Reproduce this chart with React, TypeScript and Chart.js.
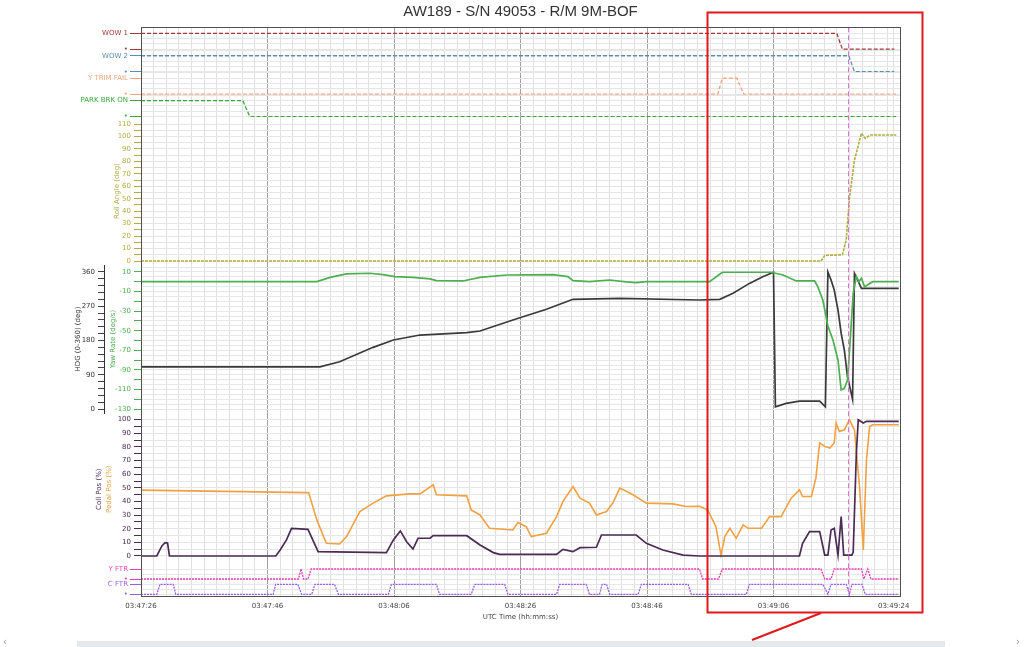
import React, { useEffect, useRef } from "react";
import { Chart, registerables, LinearScale } from "chart.js";

Chart.register(...registerables);

// Linear scale whose tick labels may extend beyond the axis box (long signal names)
class LinearNoClip extends (LinearScale as any) {
  static id = "linearNoClip";
  static defaults = (LinearScale as any).defaults;
  _computeLabelArea() {
    return undefined;
  }
}
Chart.register(LinearNoClip as any);

// ---------- text ----------
const CHART_TITLE = "AW189 - S/N 49053 - R/M 9M-BOF";
const X_AXIS_TITLE = "UTC Time (hh:mm:ss)";
const LOW_LABEL = "•";

// ---------- x axis (seconds from 03:47:26) ----------
const xTickSeconds = [0, 20, 40, 60, 80, 100, 119];
const xTickLabels = ["03:47:26", "03:47:46", "03:48:06", "03:48:26", "03:48:46", "03:49:06", "03:49:24"];
const cursorSeconds = 111.7;

// ---------- y tick labels ----------
const rollTicks = [0, 10, 20, 30, 40, 50, 60, 70, 80, 90, 100, 110];
const yawTicks = [-130, -110, -90, -70, -50, -30, -10, 10];
const hdgTicks = [0, 90, 180, 270, 360];
const pctTicks = [0, 10, 20, 30, 40, 50, 60, 70, 80, 90, 100];

// ---------- discrete signals [time s, state] ----------
const wow1: [number, number][] = [[0, 1], [110.0, 1], [110.9, 0], [119.1, 0]];
const wow2: [number, number][] = [[0, 1], [111.9, 1], [112.8, 0], [119.1, 0]];
const yTrimFail: [number, number][] = [[0, 0], [91.2, 0], [91.9, 1], [94.2, 1], [95.3, 0], [119.4, 0]];
const parkBrake: [number, number][] = [[0, 1], [16.1, 1], [17.2, 0], [119.4, 0]];
const yFtr: [number, number][] = [
  [0, 0], [24.9, 0], [25.3, 1], [25.7, 0], [26.4, 0], [26.9, 1], [88.3, 1], [88.8, 0], [91.3, 0], [91.9, 1],
  [107.5, 1], [108.1, 0], [109.1, 0], [109.6, 1], [113.9, 1], [114.3, 0], [114.9, 1], [115.4, 0], [119.8, 0],
];
const cFtr: [number, number][] = [
  [0, 0], [2.5, 0], [3.0, 1], [5.1, 1], [5.5, 0], [20.9, 0], [21.3, 1], [24.8, 1], [25.4, 0], [27.0, 0],
  [27.5, 1], [30.6, 1], [31.2, 0], [39.1, 0], [39.6, 1], [46.7, 1], [47.2, 0], [52.2, 0], [52.8, 1], [57.5, 1],
  [58.0, 0], [65.7, 0], [66.2, 1], [70.4, 1], [70.9, 0], [72.5, 0], [72.9, 1], [73.6, 1], [74.1, 0], [78.6, 0],
  [79.1, 1], [86.5, 1], [87.0, 0], [95.7, 0], [96.2, 1], [107.8, 1], [108.6, 0], [109.1, 1], [111.5, 1],
  [112.0, 0], [112.4, 1], [114.0, 1], [114.5, 0], [119.8, 0],
];

// ---------- analog signals [time s, value] ----------
const rollAngle: [number, number][] = [
  [0, 0], [107.5, 0], [108.1, 4.5], [110.9, 5], [111.5, 17], [112.0, 50], [112.8, 81], [113.9, 102.6],
  [114.5, 98.5], [115.3, 101.2], [119.4, 101.2],
];
const yawRate: [number, number][] = [
  [0, 0.1], [27.8, 0.1], [29.9, 4.5], [32.5, 8.0], [36.2, 8.7], [38.3, 7.3], [40.1, 5.2], [43.0, 4.5],
  [45.7, 2.9], [46.7, 1.1], [50.9, 0.8], [53.6, 4.5], [57.8, 6.9], [65.1, 7.3], [67.5, 5.2], [68.3, 1.1],
  [70.9, 0.1], [74.1, 1.8], [76.7, -0.2], [78.3, -0.9], [79.9, 0.1], [89.9, 0.1], [91.7, 8.7], [92.0, 9.7],
  [99.6, 9.7], [101.5, 6.9], [103.6, 0.8], [106.5, 0.8], [107.0, -5.0], [107.8, -18.6], [108.6, -45.2],
  [109.4, -59.5], [110.2, -79.9], [110.7, -110.5], [111.2, -108.8], [111.7, -100.3], [112.2, -52.6],
  [112.6, -11.8], [113.1, 5.2], [113.5, 0.1], [113.9, 3.6], [114.4, -5.0], [115.7, 0.1], [119.8, 0.1],
];
const heading: [number, number][] = [
  [0, 111], [28.3, 111], [31.4, 124.3], [36.7, 162.1], [39.9, 181.3], [44.1, 194.4], [51.5, 200.5],
  [53.6, 204.9], [58.8, 233.8], [64.1, 262], [68.3, 288.2], [75.7, 290.9], [88.3, 286.4], [91.5, 288.2],
  [93.6, 304], [96.2, 330], [98.3, 347.6], [100.0, 359.2], [100.3, 6], [102.0, 15], [104.1, 21], [107.3, 21],
  [108.2, 6], [108.6, 360], [109.1, 339], [109.6, 312.7], [110.2, 260], [110.7, 199], [111.2, 155],
  [111.7, 85], [112.5, 25.5], [112.8, 356.5], [113.3, 339], [113.9, 317], [119.8, 317],
];
const pedalPos: [number, number][] = [
  [0, 48.3], [26.2, 46.5], [26.5, 46.5], [27.8, 26.5], [29.3, 9.3], [31.4, 8.8], [32.5, 14.2], [34.6, 32.6],
  [36.7, 38.8], [38.8, 44.1], [42.5, 45.6], [44.1, 45.6], [46.2, 52.2], [46.7, 44.9], [51.5, 44.1],
  [52.2, 33.8], [53.6, 30.1], [55.1, 20.3], [58.8, 19.1], [59.6, 24.5], [60.9, 21.5], [61.7, 14.2],
  [64.1, 16.7], [65.7, 28.9], [66.7, 39.9], [68.3, 51], [69.4, 42.4], [70.9, 38.8], [72.0, 30.1],
  [73.6, 32.6], [74.6, 38.8], [75.7, 49.8], [77.8, 44.9], [79.9, 38.8], [84.1, 38.2], [86.2, 36.3],
  [88.3, 36.5], [89.6, 33.8], [90.9, 21.5], [91.7, 0.7], [92.3, 14.2], [93.1, 20.3], [94.1, 13],
  [95.2, 22.8], [96.0, 20.3], [98.1, 20.3], [99.4, 28.9], [101.2, 28.9], [102.8, 42.4], [104.1, 48.5],
  [104.6, 43.6], [106.0, 43.6], [106.7, 57.1], [107.3, 82.9], [108.1, 80.4], [108.9, 79.2], [109.6, 82.9],
  [109.9, 97.6], [110.4, 91.4], [111.2, 92.6], [112.0, 100], [112.8, 92.6], [113.6, 51], [114.2, 4.4],
  [114.7, 70.6], [115.2, 95.1], [115.7, 96.3], [119.8, 96.3],
];
const collPos: [number, number][] = [
  [0, 0], [2.5, 0], [3.3, 7.4], [3.8, 9.8], [4.2, 9.5], [4.5, 0], [21.3, 0], [22.0, 4.4], [23.0, 11.8],
  [23.8, 20.3], [26.4, 19.6], [28.0, 3.2], [38.8, 2.5], [39.9, 11.8], [41.0, 18.4], [42.0, 10.5], [43.0, 5.1],
  [43.8, 13], [45.7, 13], [46.2, 14.9], [51.5, 14.9], [53.6, 8.1], [55.7, 2.5], [56.7, 1.2], [65.7, 1.2],
  [66.7, 4.9], [68.3, 3.2], [69.4, 6.1], [72.0, 6.4], [72.8, 15.4], [78.3, 15.4], [79.9, 9.3], [82.5, 4.4],
  [85.7, 0.7], [88.3, 0], [104.1, 0], [104.6, 9.3], [105.7, 17.9], [107.3, 17.9], [108.1, 0.7], [108.6, 0.7],
  [109.1, 19.1], [109.6, 20.3], [110.2, 0.7], [110.7, 28.9], [111.1, 0.7], [112.4, 0.7], [112.6, 2.9],
  [113.1, 75.5], [113.4, 100], [114.2, 97.6], [114.7, 98.8], [119.8, 98.8],
];

// ---------- styling ----------
const FONT_FAMILY = "'DejaVu Sans', 'Verdana', sans-serif";
const FONT = { family: FONT_FAMILY, size: 7 };
const GRID_H = "#e6e6e6";
const CLEAR = "rgba(0,0,0,0)";
const C = {
  wow1: "#a33a3a",
  wow2: "#5a8fb5",
  ytrim: "#f5a27a",
  park: "#3aa63a",
  roll: "#b0ad45",
  hdg: "#3a3a3a",
  yaw: "#4caf50",
  coll: "#4b2a55",
  pedal: "#f2a040",
  yftr: "#e83fb8",
  cftr: "#9a5cf0",
};
const MAIN_W = 37;
const HDG_W = 36;

function everyStep(from: number, to: number, step: number) {
  const out: number[] = [];
  for (let v = from; v <= to + 1e-9; v += step) out.push(Math.round(v * 1000) / 1000);
  return out;
}

function digitalAxis(name: string, color: string, weight: number, stackWeight: number, min: number, max: number, gridVals: number[]) {
  return {
    type: "linearNoClip",
    position: "left",
    stack: "main",
    stackWeight,
    weight,
    min,
    max,
    bounds: "data",
    afterBuildTicks: (s: any) => {
      s.ticks = gridVals.map((v) => ({ value: v }));
    },
    afterFit: (s: any) => {
      s.width = MAIN_W;
    },
    ticks: {
      autoSkip: false,
      color,
      font: FONT,
      padding: 2,
      callback: (v: number) => (v === 1 ? name : v === 0 ? LOW_LABEL : ""),
    },
    grid: {
      color: GRID_H,
      tickLength: 11,
      tickColor: (ctx: any) => (ctx.tick && (ctx.tick.value === 0 || ctx.tick.value === 1) ? color : CLEAR),
    },
    border: { color, width: 1 },
  };
}

function spacerAxis(weight: number, stackWeight: number) {
  return {
    type: "linear",
    position: "left",
    stack: "hdg",
    stackWeight,
    weight,
    display: true,
    ticks: { display: false },
    grid: { display: false },
    border: { display: false },
    afterFit: (s: any) => {
      s.width = HDG_W;
    },
  };
}

function toXY(d: [number, number][]) {
  return d.map(([x, y]) => ({ x, y }));
}

function lineDs(label: string, d: [number, number][], yAxisID: string, color: string, width: number, dash?: number[]) {
  return {
    label,
    data: toXY(d),
    yAxisID,
    xAxisID: "x",
    borderColor: color,
    backgroundColor: color,
    borderWidth: width,
    borderDash: dash || [],
    pointRadius: 0,
    tension: 0,
    fill: false,
  };
}

const decorPlugin = {
  id: "decor",
  afterDatasetsDraw(chart: any) {
    const { ctx, chartArea, scales } = chart;
    const x = scales.x.getPixelForValue(cursorSeconds);
    ctx.save();
    ctx.strokeStyle = "#e070c8";
    ctx.lineWidth = 1;
    ctx.setLineDash([5, 3]);
    ctx.beginPath();
    ctx.moveTo(Math.round(x) + 0.5, chartArea.top);
    ctx.lineTo(Math.round(x) + 0.5, chartArea.bottom);
    ctx.stroke();
    ctx.restore();
  },
  afterDraw(chart: any) {
    const { ctx, chartArea, scales } = chart;
    ctx.save();
    ctx.strokeStyle = "#505050";
    ctx.lineWidth = 1;
    ctx.strokeRect(
      Math.round(chartArea.left) + 0.5,
      Math.round(chartArea.top) + 0.5,
      Math.round(chartArea.right - chartArea.left),
      Math.round(chartArea.bottom - chartArea.top)
    );
    const coll = scales.coll;
    ctx.translate(109.5, (coll.top + coll.bottom) / 2);
    ctx.rotate(-Math.PI / 2);
    ctx.fillStyle = C.pedal;
    ctx.font = `7px ${FONT_FAMILY}`;
    ctx.textAlign = "center";
    ctx.textBaseline = "middle";
    ctx.fillText("Pedal Pos (%)", 0, 0);
    ctx.restore();

    ctx.save();
    ctx.strokeStyle = "#e0191b";
    ctx.lineWidth = 2;
    ctx.strokeRect(707.5, 12.5, 215, 600);
    ctx.beginPath();
    ctx.moveTo(821, 613);
    ctx.lineTo(752, 640);
    ctx.stroke();
    ctx.fillStyle = "#e4e9ee";
    ctx.fillRect(77, 641, 868, 6);
    ctx.fillStyle = "#999";
    ctx.font = `11px ${FONT_FAMILY}`;
    ctx.textAlign = "center";
    ctx.textBaseline = "middle";
    ctx.fillText("‹", 5, 642);
    ctx.fillText("›", 1018, 642);
    ctx.restore();
  },
};

export default function App() {
  const ref = useRef<HTMLCanvasElement>(null);

  useEffect(() => {
    const canvas = ref.current;
    if (!canvas) return;

    const xGridVals = [...everyStep(0, 118, 2), 119, 120];

    const chart = new Chart(canvas, {
      type: "line",
      data: {
        datasets: [
          lineDs("WOW 1", wow1, "wow1", C.wow1, 1.3, [4, 2]),
          lineDs("WOW 2", wow2, "wow2", C.wow2, 1.3, [4, 2]),
          lineDs("Y TRIM FAIL", yTrimFail, "ytrim", C.ytrim, 1.3, [4, 2]),
          lineDs("PARK BRK ON", parkBrake, "park", C.park, 1.3, [4, 2]),
          lineDs("Roll Angle", rollAngle, "roll", C.roll, 1.6, [3, 1]),
          lineDs("Yaw Rate", yawRate, "yaw", C.yaw, 1.7),
          lineDs("HDG", heading, "hdg", C.hdg, 1.7),
          lineDs("Coll Pos", collPos, "coll", C.coll, 1.7),
          lineDs("Pedal Pos", pedalPos, "coll", C.pedal, 1.6),
          lineDs("Y FTR", yFtr, "yftr", C.yftr, 1.3, [2, 1]),
          lineDs("C FTR", cFtr, "cftr", C.cftr, 1.3, [2, 1]),
        ],
      },
      options: {
        responsive: false,
        animation: false,
        events: [],
        layout: { padding: { left: 68, right: 124, top: 0, bottom: 21 } },
        plugins: {
          legend: { display: false },
          tooltip: { enabled: false },
          title: {
            display: true,
            fullSize: false,
            text: CHART_TITLE,
            color: "#333",
            font: { family: "'Liberation Sans', Arial, sans-serif", size: 15, weight: "normal" },
            padding: { top: 3, bottom: 6.3 },
          },
        },
        scales: {
          x: {
            type: "linear",
            position: "bottom",
            min: 0,
            max: 120,
            bounds: "data",
            afterBuildTicks: (s: any) => {
              s.ticks = xGridVals.map((v) => ({ value: v }));
            },
            afterFit: (s: any) => {
              s.height = 30;
            },
            ticks: {
              autoSkip: false,
              maxRotation: 0,
              minRotation: 0,
              padding: 6,
              color: "#444",
              font: FONT,
              callback: (v: number) => {
                const i = xTickSeconds.indexOf(v);
                return i >= 0 ? xTickLabels[i] : "";
              },
            },
            grid: {
              drawTicks: false,
              color: (ctx: any) => {
                const v = ctx.tick ? ctx.tick.value : -1;
                return v % 20 === 0 && v > 0 && v < 120 ? "#a0a0a0" : "#e0e0e0";
              },
            },
            border: { color: "#505050" },
            title: {
              display: true,
              text: X_AXIS_TITLE,
              color: "#444",
              font: FONT,
              padding: { top: 2, bottom: 4.8 },
            },
          },
          hdgTop: spacerAxis(300, 237.7),
          hdg: {
            type: "linear",
            position: "left",
            stack: "hdg",
            stackWeight: 148,
            weight: 299,
            min: -10.3,
            max: 378.3,
            bounds: "data",
            afterBuildTicks: (s: any) => {
              s.ticks = everyStep(0, 360, 18).map((v) => ({ value: v }));
            },
            afterFit: (s: any) => {
              s.width = HDG_W;
            },
            ticks: {
              autoSkip: false,
              color: "#333",
              font: FONT,
              padding: 3,
              callback: (v: number) => (hdgTicks.includes(v) ? String(v) : ""),
            },
            grid: { drawOnChartArea: false, tickLength: 6, color: "#333", tickColor: "#444" },
            border: { color: "#333" },
            title: {
              display: true,
              text: "HDG (0-360) (deg)",
              color: "#333",
              font: FONT,
              padding: { top: 5.8, bottom: 0 },
            },
          },
          hdgBot: spacerAxis(298, 183),
          wow1: digitalAxis("WOW 1", C.wow1, 200, 22.45, -0.03, 1.375, [0, 1 / 3, 2 / 3, 1, 4 / 3]),
          wow2: digitalAxis("WOW 2", C.wow2, 199, 22.45, -0.03, 1.375, [0, 1 / 3, 2 / 3, 1, 4 / 3]),
          ytrim: digitalAxis("Y TRIM FAIL", C.ytrim, 198, 22.45, -0.03, 1.375, [0, 1 / 3, 2 / 3, 1, 4 / 3]),
          park: digitalAxis("PARK BRK ON", C.park, 197, 22.45, -0.03, 1.375, [0, 1 / 3, 2 / 3, 1, 4 / 3]),
          roll: {
            type: "linear",
            position: "left",
            stack: "main",
            stackWeight: 147.9,
            weight: 196,
            min: -3.2,
            max: 115.6,
            bounds: "data",
            afterBuildTicks: (s: any) => {
              s.ticks = everyStep(0, 110, 5).map((v) => ({ value: v }));
            },
            afterFit: (s: any) => {
              s.width = MAIN_W;
            },
            ticks: {
              autoSkip: false,
              color: C.roll,
              font: FONT,
              padding: 3,
              callback: (v: number) => (rollTicks.includes(v) ? String(v) : ""),
            },
            grid: { color: GRID_H, tickLength: 7, tickColor: C.roll },
            border: { color: C.roll },
            title: {
              display: true,
              text: "Roll Angle (deg)",
              color: C.roll,
              font: FONT,
              padding: { top: 8.5, bottom: 0 },
            },
          },
          yaw: {
            type: "linear",
            position: "left",
            stack: "main",
            stackWeight: 148,
            weight: 195,
            min: -134,
            max: 17.1,
            bounds: "data",
            afterBuildTicks: (s: any) => {
              s.ticks = everyStep(-130, 15, 5).map((v) => ({ value: v }));
            },
            afterFit: (s: any) => {
              s.width = MAIN_W;
            },
            ticks: {
              autoSkip: false,
              color: C.yaw,
              font: FONT,
              padding: 3,
              callback: (v: number) => (yawTicks.includes(v) ? String(v) : ""),
            },
            grid: {
              color: GRID_H,
              tickLength: 7,
              tickColor: (ctx: any) => (ctx.tick && ctx.tick.value % 10 === 0 ? C.yaw : CLEAR),
            },
            border: { color: C.yaw },
            title: {
              display: true,
              text: "Yaw Rate (deg/s)",
              color: C.yaw,
              font: FONT,
              padding: { top: 4.8, bottom: 0 },
            },
          },
          coll: {
            type: "linear",
            position: "left",
            stack: "main",
            stackWeight: 152.4,
            weight: 194,
            min: -6.9,
            max: 104.9,
            bounds: "data",
            afterBuildTicks: (s: any) => {
              s.ticks = everyStep(0, 100, 5).map((v) => ({ value: v }));
            },
            afterFit: (s: any) => {
              s.width = MAIN_W;
            },
            ticks: {
              autoSkip: false,
              color: C.coll,
              font: FONT,
              padding: 3,
              callback: (v: number) => (pctTicks.includes(v) ? String(v) : ""),
            },
            grid: { color: GRID_H, tickLength: 7, tickColor: C.coll },
            border: { color: C.coll },
            title: {
              display: true,
              text: "Coll Pos (%)",
              color: C.coll,
              font: FONT,
              padding: { top: -8.9, bottom: 0 },
            },
          },
          yftr: digitalAxis("Y FTR", C.yftr, 193, 15.3, -0.17, 1.36, [0, 0.5, 1]),
          cftr: digitalAxis("C FTR", C.cftr, 192, 15.3, -0.17, 1.36, [0, 0.5, 1]),
        },
      } as any,
      plugins: [decorPlugin],
    } as any);

    return () => chart.destroy();
  }, []);

  return (
    <div style={{ position: "absolute", left: 0, top: 0, width: 1024, height: 647, background: "#fff" }}>
      <canvas ref={ref} width={1024} height={647} style={{ display: "block", width: 1024, height: 647 }} />
    </div>
  );
}
